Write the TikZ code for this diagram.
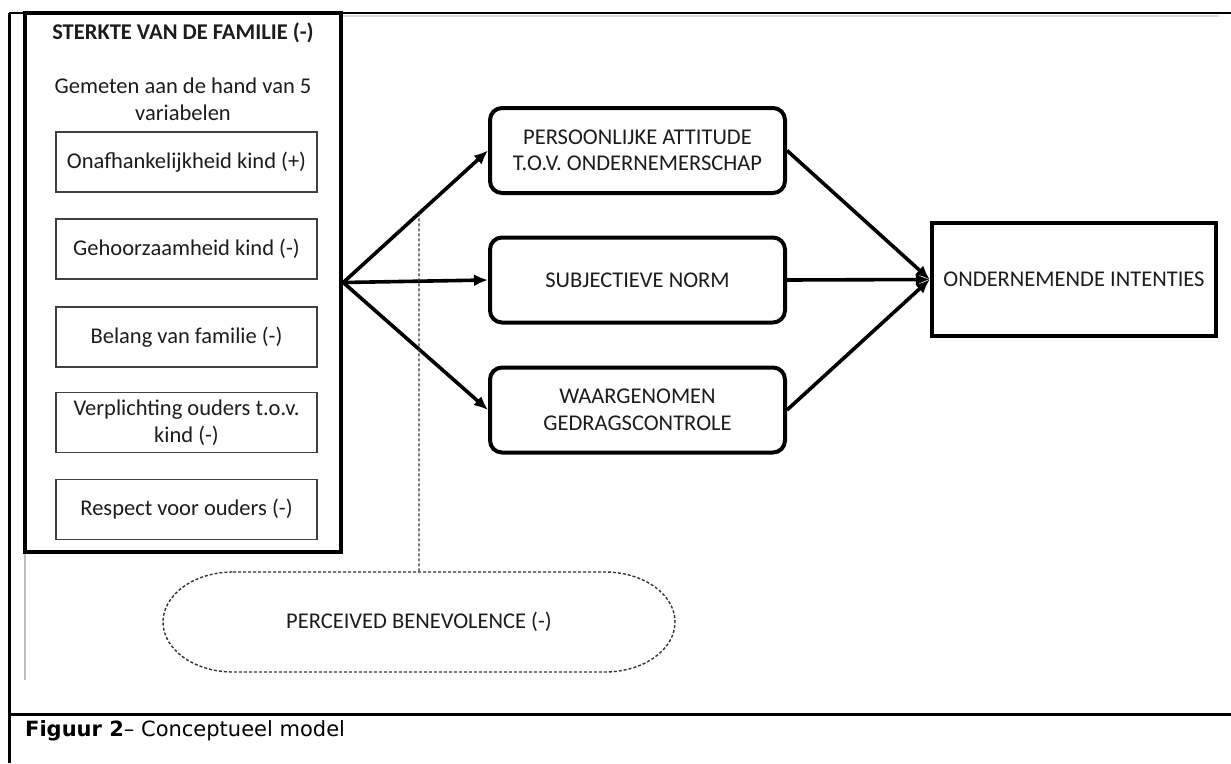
\documentclass[tikz,border=0pt]{standalone}
\usepackage{fontspec}
\setmainfont{Carlito}
\newfontfamily\capfont{DejaVu Sans}
\usetikzlibrary{arrows.meta,calc}
\definecolor{textc}{RGB}{28,28,28}
\begin{document}
\begin{tikzpicture}[x=1pt,y=-1pt,
  txt/.style={text=textc,font=\fontsize{22.5}{26.5}\selectfont,align=center,inner sep=0},
  bigbox/.style={draw,line width=4.5pt,minimum width=316pt,minimum height=539pt,inner sep=0},
  varbox/.style={txt,draw=black!75,line width=1.6pt,minimum width=261pt,minimum height=60pt},
  midbox/.style={txt,draw,line width=4pt,rounded corners=12pt,minimum width=295pt,minimum height=85pt},
  outbox/.style={txt,draw,line width=4.5pt,minimum width=284pt,minimum height=113pt},
  arr/.style={-{Latex[length=14pt,width=12pt]},line width=3.6pt},
  dashline/.style={draw=black!80,line width=1.4pt,dash pattern=on 3pt off 2pt}
]
\useasboundingbox (0,0) rectangle (1231,763);
% frame
\draw[line width=3pt] (9,13) -- (9,763);
\draw[line width=2pt] (9,13) -- (1231,13);
\draw[black!15,line width=1.5pt] (343,16) -- (1219,16);
\draw[black!25,line width=1.2pt] (25,552) -- (25,680);
\draw[line width=3pt] (9,714) -- (1231,714);
% left big box
\node[bigbox] (big) at (183,282.5) {};
\node[txt,font=\fontsize{22.5}{26.5}\selectfont\bfseries] (title) at (183,33) {STERKTE VAN DE FAMILIE (-)};
\node[txt] (gem) at (183,99.5) {Gemeten aan de hand van 5\\variabelen};
\node[varbox] (v1) at (186.5,162) {Onafhankelijkheid kind (+)};
\node[varbox] (v2) at (186.5,249) {Gehoorzaamheid kind (-)};
\node[varbox] (v3) at (186.5,337) {Belang van familie (-)};
\node[varbox] (v4) at (186.5,422.5) {Verplichting ouders t.o.v.\\kind (-)};
\node[varbox] (v5) at (186.5,509.5) {Respect voor ouders (-)};
% middle boxes
\node[midbox] (pa) at (637.5,150.5) {PERSOONLIJKE ATTITUDE\\T.O.V. ONDERNEMERSCHAP};
\node[midbox] (sn) at (637.5,280) {SUBJECTIEVE NORM};
\node[midbox] (wg) at (637.5,410) {WAARGENOMEN\\GEDRAGSCONTROLE};
\node[outbox] (oi) at (1074,279.5) {ONDERNEMENDE INTENTIES};
% arrows
\draw[arr] (big.east) -- (pa.west);
\draw[arr] (big.east) -- (sn.west);
\draw[arr] (big.east) -- (wg.west);
\draw[arr] (pa.east) -- (oi.west);
\draw[arr] (sn.east) -- (oi.west);
\draw[arr] (wg.east) -- (oi.west);
% perceived benevolence
\node[txt] (pb) at (419,622) {PERCEIVED BENEVOLENCE (-)};
\draw[dashline] (233,572) -- (605,572) arc(90:-90:70pt and 50pt) -- (233,672) arc(270:90:70pt and 50pt) -- cycle;
\coordinate (dtop) at ($(big.east)!0.523!(pa.west)$);
\coordinate (dbot) at (419,572);
\draw[dashline] (dtop) -- (dbot);
% caption
\node[anchor=west,inner sep=0,font=\fontsize{21}{25}\selectfont] (cap) at (25,731) {{\capfont\bfseries Figuur 2}{\capfont – Conceptueel model}};
\end{tikzpicture}
\end{document}
